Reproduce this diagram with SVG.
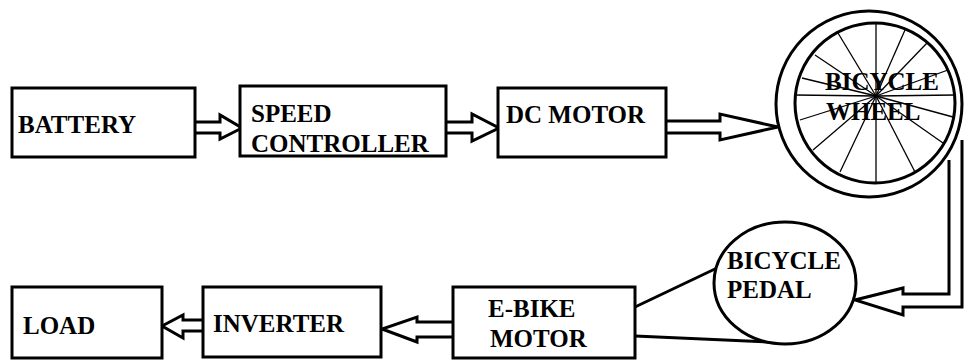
<svg xmlns="http://www.w3.org/2000/svg" width="964" height="360" viewBox="0 0 964 360">
<style>
.box{fill:#fff;stroke:#000;stroke-width:3}
.lbl{font-family:'Liberation Serif','DejaVu Serif',serif;font-weight:700;font-size:25px;fill:#000}
.arr{fill:#fff;stroke:#000;stroke-width:3;stroke-linejoin:miter}
.ln{fill:none;stroke:#000;stroke-width:3}
.spoke{stroke:#000;stroke-width:1.3}
</style>
<rect width="964" height="360" fill="#fff"/>
<g id="connectors">
<path class="arr" d="M195,122 H220 V115 L242,128 L220,139 V133 H195"/>
<path class="arr" d="M446,122 H472 V114 L499,128 L472,141 V133 H446"/>
<path class="arr" d="M666,121 H720 V114 L778,127 L720,140 V133 H666"/>
<path class="arr" d="M962,140 V307 H903 V315 L855,300 L903,288 V294 H949 V160"/>
<path class="arr" d="M453,322 H417 V317 L382,329 L417,342 V337 H453"/>
<path class="arr" d="M203,320 H183 V315 L162,326 L183,338 V331 H203"/>
<line class="ln" x1="635" y1="307" x2="717" y2="268"/>
<line class="ln" x1="635" y1="336" x2="790" y2="343"/>
</g>
<g id="battery">
<rect class="box" x="12" y="88" width="183" height="69"/>
<text class="lbl" x="18" y="133">BATTERY</text>
</g>
<g id="speed-controller">
<rect class="box" x="240" y="86" width="206" height="70"/>
<text class="lbl" x="251" y="122">SPEED</text>
<text class="lbl" x="251" y="152">CONTROLLER</text>
</g>
<g id="dc-motor">
<rect class="box" x="498" y="88" width="168" height="69"/>
<text class="lbl" x="506" y="123">DC MOTOR</text>
</g>
<g id="bicycle-wheel">
<circle cx="869" cy="104" r="93" fill="#fff" stroke="#000" stroke-width="3"/>
<circle cx="875" cy="103" r="80" fill="#fff" stroke="#000" stroke-width="3"/>
<g class="spoke">
<line x1="876" y1="96" x2="876" y2="23"/>
<line x1="876" y1="96" x2="838" y2="33"/>
<line x1="876" y1="96" x2="815" y2="55"/>
<line x1="876" y1="96" x2="802" y2="78"/>
<line x1="876" y1="96" x2="795" y2="95"/>
<line x1="876" y1="96" x2="800" y2="120"/>
<line x1="876" y1="96" x2="813" y2="150"/>
<line x1="876" y1="96" x2="840" y2="172"/>
<line x1="876" y1="96" x2="876" y2="183"/>
<line x1="876" y1="96" x2="915" y2="172"/>
<line x1="876" y1="96" x2="943" y2="143"/>
<line x1="876" y1="96" x2="953" y2="117"/>
<line x1="876" y1="96" x2="955" y2="95"/>
<line x1="876" y1="96" x2="948" y2="70"/>
<line x1="876" y1="96" x2="927" y2="43"/>
<line x1="876" y1="96" x2="905" y2="30"/>
</g>
<text class="lbl" x="825" y="90">BICYCLE</text>
<text class="lbl" x="826" y="120">WHEEL</text>
</g>
<g id="bicycle-pedal">
<ellipse cx="785" cy="283" rx="71" ry="61" fill="#fff" stroke="#000" stroke-width="3"/>
<text class="lbl" x="727" y="269">BICYCLE</text>
<text class="lbl" x="727" y="298">PEDAL</text>
</g>
<g id="e-bike-motor">
<rect class="box" x="453" y="287" width="182" height="71"/>
<text class="lbl" x="488" y="317">E-BIKE</text>
<text class="lbl" x="490" y="347">MOTOR</text>
</g>
<g id="inverter">
<rect class="box" x="203" y="287" width="178" height="70"/>
<text class="lbl" x="213" y="332">INVERTER</text>
</g>
<g id="load">
<rect class="box" x="12" y="287" width="150" height="71"/>
<text class="lbl" x="23" y="334">LOAD</text>
</g>
</svg>
